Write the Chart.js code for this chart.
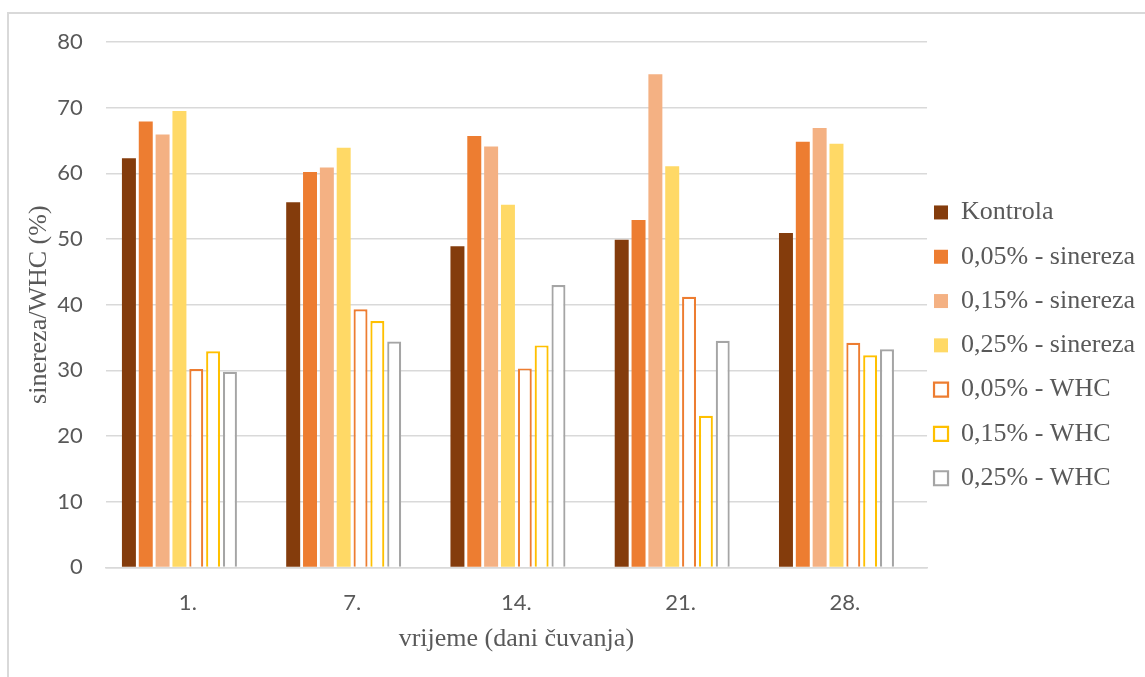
<!DOCTYPE html>
<html>
<head>
<meta charset="utf-8">
<script src="https://cdn.jsdelivr.net/npm/chart.js@4/dist/chart.umd.min.js"></script>
<style>
  body { margin: 0; background: #fff; overflow: hidden; }
  #frame { position: absolute; left: 7px; top: 12px; width: 1200px; height: 700px;
           border-left: 2px solid #d9d9d9; border-top: 2px solid #d9d9d9; }
  #wrap { position: absolute; left: 0; top: 0; width: 1145px; height: 677px; }
</style>
</head>
<body>
<div id="frame"></div>
<div id="wrap"><canvas id="myChart" width="1145" height="677"></canvas></div>
<script>
// days of storage
const categories = ['1.', '7.', '14.', '21.', '28.'];

// syneresis (%)
const kontrola = [62.3, 55.6, 48.9, 49.9, 50.9];
const sinereza005 = [67.9, 60.2, 65.7, 52.9, 64.8];
const sinereza015 = [65.9, 60.9, 64.1, 75.1, 66.9];
const sinereza025 = [69.5, 63.9, 55.2, 61.1, 64.5];

// water holding capacity (%)
const whc005 = [30.2, 39.3, 30.3, 41.2, 34.2];
const whc015 = [32.9, 37.5, 33.8, 23.1, 32.3];
const whc025 = [29.8, 34.4, 43.0, 34.5, 33.2];

// the original has an empty eighth series slot
const emptySlot = [null, null, null, null, null];

const yTicks = [0, 10, 20, 30, 40, 50, 60, 70, 80];

const textColor = '#595959';
const serif = 'Liberation Serif';
const sans = 'Lato';

const filled = (label, data, color) => ({
    label: label, data: data, backgroundColor: color, borderColor: color, borderWidth: 0
});
const outlined = (label, data, color) => ({
    label: label, data: data, backgroundColor: '#ffffff', borderColor: color, borderWidth: 2.2
});

const ctx = document.getElementById('myChart').getContext('2d');
const myChart = new Chart(ctx, {
    type: 'bar',
    data: {
        labels: categories,
        datasets: [
            filled('Kontrola', kontrola, '#843c0c'),
            filled('0,05% - sinereza', sinereza005, '#ed7d31'),
            filled('0,15% - sinereza', sinereza015, '#f4b183'),
            filled('0,25% - sinereza', sinereza025, '#ffd966'),
            outlined('0,05% - WHC', whc005, '#ed7d31'),
            outlined('0,15% - WHC', whc015, '#ffc000'),
            outlined('0,25% - WHC', whc025, '#a5a5a5'),
            filled('', emptySlot, 'rgba(0,0,0,0)')
        ]
    },
    options: {
        responsive: false,
        animation: false,
        layout: { padding: { left: 20, top: 42, right: 0, bottom: 17 } },
        datasets: { bar: { categoryPercentage: 0.82, barPercentage: 0.83 } },
        scales: {
            x: {
                grid: { display: false, drawTicks: false },
                border: { display: true, color: '#d9d9d9', width: 1.5 },
                ticks: { color: textColor, font: { family: sans, size: 22 }, padding: 22 },
                // tick padding is reserved twice, take it back here
                title: {
                    display: true, text: 'vrijeme (dani čuvanja)', color: textColor,
                    font: { family: serif, size: 26 }, padding: { top: -14, bottom: 5 }
                }
            },
            y: {
                min: 0,
                max: 80,
                afterBuildTicks: (axis) => { axis.ticks = yTicks.map(v => ({ value: v })); },
                grid: { color: '#d9d9d9', lineWidth: 1.5, drawTicks: false },
                border: { display: false },
                ticks: { color: textColor, font: { family: sans, size: 22 }, padding: 23 },
                title: {
                    display: true, text: 'sinereza/WHC (%)', color: textColor,
                    font: { family: serif, size: 26 }, padding: { top: 4, bottom: -21 }
                }
            }
        },
        plugins: {
            tooltip: { enabled: false },
            legend: {
                position: 'right',
                labels: {
                    color: textColor,
                    font: { family: serif, size: 26, lineHeight: '37.3px' },
                    boxWidth: 14,
                    boxHeight: 14,
                    padding: 7,
                    // one-line arrays so each row uses the font line height
                    generateLabels: (chart) => Chart.defaults.plugins.legend.labels
                        .generateLabels(chart)
                        .filter(item => item.text !== '')
                        .map(item => Object.assign(item, { text: [item.text] }))
                }
            }
        }
    }
});
</script>
</body>
</html>
